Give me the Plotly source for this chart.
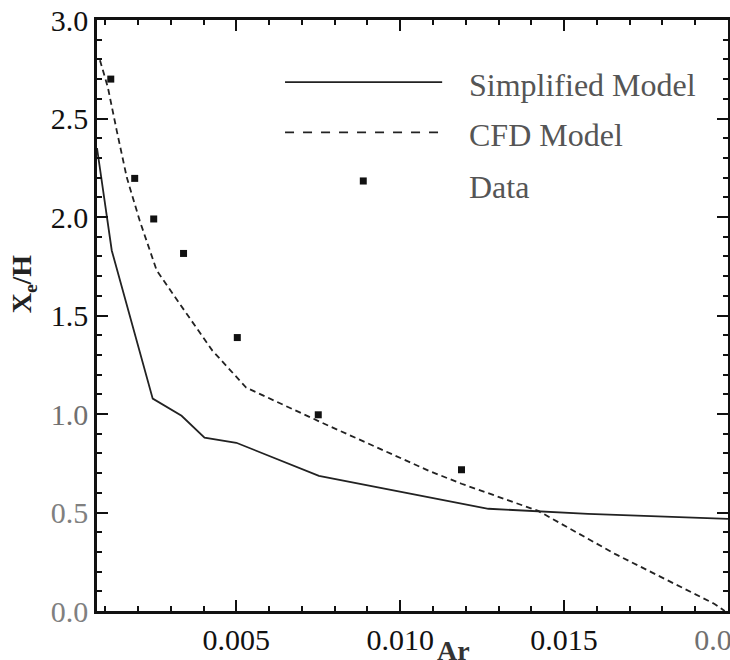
import plotly.graph_objects as go

# ---- data ----
simp_x = [0.00075, 0.0012, 0.00245, 0.00333, 0.00403, 0.0050, 0.00752, 0.01269, 0.01573, 0.0200]
simp_y = [2.35, 1.83, 1.078, 0.991, 0.88, 0.854, 0.686, 0.519, 0.493, 0.468]

cfd_x = [0.00084, 0.00108, 0.00135, 0.00166, 0.00205, 0.00257, 0.00348, 0.00427, 0.0053,
         0.00761, 0.01087, 0.01187, 0.01421, 0.01655, 0.01959, 0.0199]
cfd_y = [2.796, 2.659, 2.44, 2.20, 1.983, 1.729, 1.51, 1.322, 1.134,
         0.956, 0.712, 0.646, 0.508, 0.29, 0.036, 0.0]

data_x = [0.00117, 0.0019, 0.00248, 0.00339, 0.00503, 0.0075, 0.01187]
data_y = [2.70, 2.196, 1.99, 1.815, 1.388, 0.996, 0.717]

y_ticks = [0.0, 0.5, 1.0, 1.5, 2.0, 2.5, 3.0]
y_tick_text = ["<span style='color:#808080'>0.0</span>", "<span style='color:#808080'>0.5</span>",
               "<span style='color:#707070'>1.0</span>", "1.5", "2.0", "2.5", "3.0"]
x_ticks = [0.005, 0.010, 0.015, 0.020]
x_tick_text = ["0.005", "0.010", "0.015", "<span style='color:#707070'>0.020</span>"]

legend_names = ["Simplified Model", "CFD Model", "Data"]

FONT = "Liberation Serif, Times New Roman, serif"

fig = go.Figure()
fig.add_trace(go.Scatter(x=simp_x, y=simp_y, mode="lines", name=legend_names[0],
                         line=dict(color="#222", width=1.8), showlegend=False))
fig.add_trace(go.Scatter(x=cfd_x, y=cfd_y, mode="lines", name=legend_names[1],
                         line=dict(color="#222", width=1.8, dash="6px,4px"), showlegend=False))
fig.add_trace(go.Scatter(x=data_x, y=data_y, mode="markers", name=legend_names[2],
                         marker=dict(symbol="square", size=7, color="#111"), showlegend=False))

# manual legend (long line samples like the original)
leg_sample_y = [0.895, 0.81, 0.7276]
leg_text_y = [0.89, 0.805, 0.717]
leg_kind = ["solid", "dash", None]
for sy, ty, kind, name in zip(leg_sample_y, leg_text_y, leg_kind, legend_names):
    if kind:
        fig.add_shape(type="line", xref="paper", yref="paper", x0=0.298, x1=0.547, y0=sy, y1=sy,
                      line=dict(color="#222", width=1.8, dash=kind))
    else:
        fig.add_shape(type="rect", xref="paper", yref="paper", x0=0.4165, x1=0.4275, y0=sy - 0.006, y1=sy + 0.006,
                      fillcolor="#111", line=dict(width=0))
    fig.add_annotation(text=name, xref="paper", yref="paper", x=0.587, y=ty, xanchor="left", yanchor="middle",
                       showarrow=False, font=dict(family=FONT, size=32, color="#555"))

fig.add_annotation(text="<b>X<sub>e</sub>/H</b>", xref="paper", yref="paper", x=-0.117, y=0.553,
                   textangle=-90, showarrow=False, xanchor="center", yanchor="middle",
                   font=dict(family=FONT, size=28, color="#222"))
fig.add_annotation(text="<b>Ar</b>", xref="paper", yref="paper", x=0.565, y=-0.037,
                   showarrow=False, xanchor="center", yanchor="top",
                   font=dict(family=FONT, size=28, color="#333"))

axis_common = dict(showgrid=False, zeroline=False, showline=True, linecolor="#111", linewidth=2.5,
                   mirror="allticks", ticks="inside", tickcolor="#111", tickwidth=1.5, ticklen=11,
                   automargin=False, ticklabeloverflow="allow",
                   tickfont=dict(family=FONT, size=30, color="#111"))

fig.update_xaxes(range=[0.00075, 0.0200], tickvals=x_ticks, ticktext=x_tick_text,
                 minor=dict(dtick=0.001, tick0=0, ticks="inside", ticklen=5, tickcolor="#111", tickwidth=1.5),
                 **axis_common)
fig.update_yaxes(range=[0, 3.0], tickvals=y_ticks, ticktext=y_tick_text,
                 minor=dict(dtick=0.1, tick0=0, ticks="inside", ticklen=5, tickcolor="#111", tickwidth=1.5),
                 **axis_common)

fig.update_layout(width=730, height=660, margin=dict(l=97, r=2, t=20, b=49),
                  paper_bgcolor="white", plot_bgcolor="white",
                  font=dict(family=FONT, color="#111"))

fig.write_html("out.html", config={"displayModeBar": False},
               post_script="document.body.style.margin='0';document.body.style.overflow='hidden';")
